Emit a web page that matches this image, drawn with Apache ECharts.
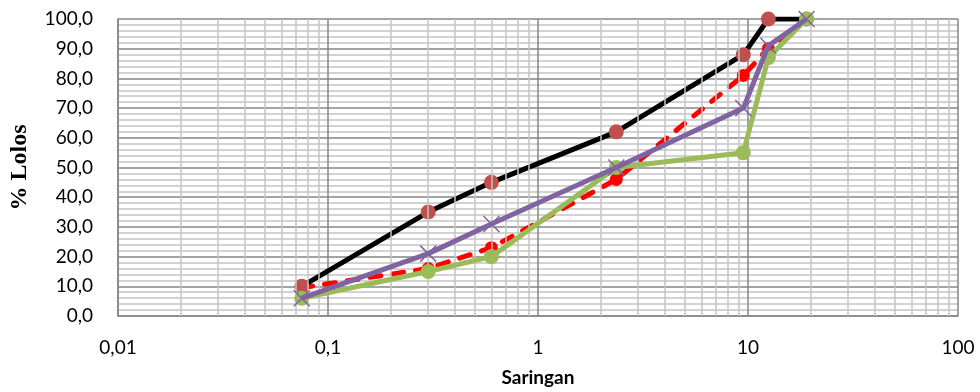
<!DOCTYPE html>
<html><head><meta charset="utf-8">
<script src="https://cdn.jsdelivr.net/npm/echarts@6/dist/echarts.min.js"></script>
<style>html,body{margin:0;padding:0;background:#fff}#c{width:980px;height:392px}</style>
</head><body><div id="c"></div>
<script>
const sieves = [0.075, 0.3, 0.6, 2.36, 9.5, 12.5, 19];
const upperLimit = [10, 35, 45, 62, 88, 100, 100];
const mixDashed = [9.5, 16, 23, 46, 81, 90, 100];
const lowerLimit = [6, 15, 20, 50, 55, 87, 100];
const mixPurple = [6, 21, 31, 50, 70, 91, 100];
const xTicks = [0.01, 0.1, 1, 10, 100];
const yTicks = [0, 10, 20, 30, 40, 50, 60, 70, 80, 90, 100];

const pair = ys => sieves.map((x, i) => [x, ys[i]]);
const minorX = [];
for (let d = -2; d <= 1; d++) for (let k = 2; k <= 9; k++) minorX.push(+(k * Math.pow(10, d)).toPrecision(3));

const fmt = v => String(v).replace('.', ',');
const lblFont = "Lato, 'Open Sans', sans-serif";
const crossPath = 'path://M0,0 L10,10 M10,0 L0,10';

const chart = echarts.init(document.getElementById('c'));
chart.setOption({
  animation: false,
  grid: {left: 118, right: 22, top: 19, bottom: 76},
  xAxis: {
    type: 'log', logBase: 10, min: xTicks[0], max: xTicks[xTicks.length - 1],
    name: 'Saringan', nameLocation: 'middle', nameGap: 52,
    nameTextStyle: {fontFamily: lblFont, fontWeight: 'bold', fontSize: 19, color: '#000'},
    axisLine: {show: true, lineStyle: {color: '#868686', width: 1.5}},
    axisTick: {show: false},
    axisLabel: {fontFamily: lblFont, fontSize: 19, color: '#000', margin: 22, formatter: v => fmt(v)},
    splitLine: {show: true, lineStyle: {color: '#868686', width: 1.5}}
  },
  yAxis: {
    type: 'value', min: yTicks[0], max: yTicks[yTicks.length - 1], interval: 10,
    name: '% Lolos', nameLocation: 'middle', nameGap: 86, nameRotate: 90,
    nameTextStyle: {fontFamily: "'Liberation Serif', serif", fontWeight: 'bold', fontSize: 24, color: '#000'},
    axisLine: {show: true, lineStyle: {color: '#868686', width: 1.5}},
    axisTick: {show: false},
    axisLabel: {fontFamily: lblFont, fontSize: 19, color: '#000', margin: 25, formatter: v => v.toFixed(1).replace('.', ',')},
    splitLine: {show: true, lineStyle: {color: '#868686', width: 1.5}},
    minorTick: {show: false, splitNumber: 5},
    minorSplitLine: {show: true, lineStyle: {color: '#c4c4c4', width: 1.5}}
  },
  series: [
    {
      type: 'line', data: [], z: 1, silent: true,
      markLine: {silent: true, symbol: ['none', 'none'], label: {show: false},
        lineStyle: {color: '#c4c4c4', width: 1.5, type: 'solid'},
        data: minorX.map(v => ({xAxis: v}))}
    },
    {
      name: 'dashed', type: 'line', data: pair(mixDashed), z: 3,
      lineStyle: {color: '#FF0000', width: 5, type: [11, 12], cap: 'round'},
      symbol: 'circle', symbolSize: 13,
      itemStyle: {color: '#FF0000', borderWidth: 0}
    },
    {
      name: 'upper', type: 'line', data: pair(upperLimit), z: 4,
      lineStyle: {color: '#000', width: 5},
      symbol: 'circle', symbolSize: 15,
      itemStyle: {color: '#C0504D', borderWidth: 0}
    },
    {
      name: 'lower', type: 'line', data: pair(lowerLimit), z: 5,
      lineStyle: {color: '#9BBB59', width: 5},
      symbol: 'circle', symbolSize: 15,
      itemStyle: {color: '#9BBB59', borderWidth: 0}
    },
    {
      name: 'purple', type: 'line', data: pair(mixPurple), z: 6,
      lineStyle: {color: '#8064A2', width: 5},
      symbol: crossPath, symbolSize: 16,
      itemStyle: {color: 'none', borderColor: '#8064A2', borderWidth: 1.5}
    }
  ]
});
</script></body></html>
